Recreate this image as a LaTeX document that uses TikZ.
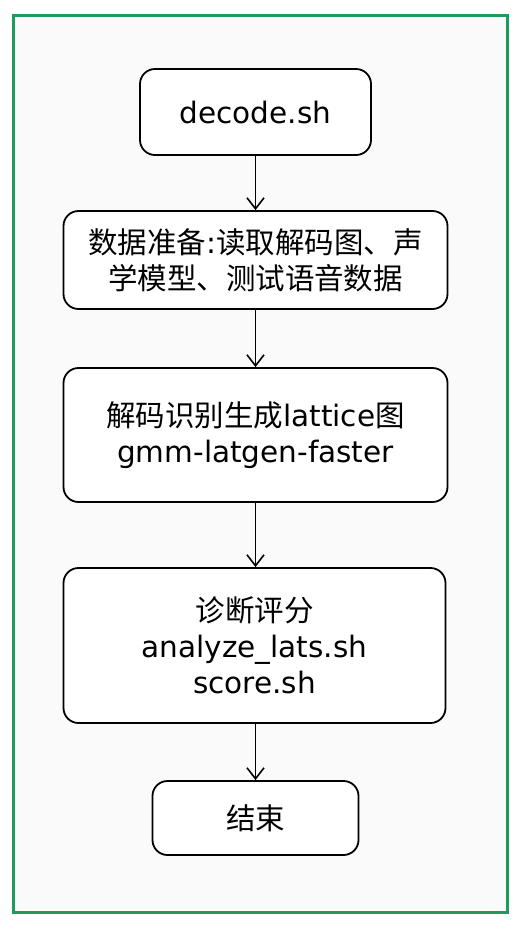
\documentclass[tikz,border=0pt]{standalone}
\usepackage{fontspec}
\setmainfont{DejaVu Sans}
\newfontfamily\cjk{Noto Sans CJK SC}
\usetikzlibrary{arrows.meta}
\definecolor{framegreen}{HTML}{1E9A5C}
\tikzset{
  box/.style={draw=black, line width=1.8pt, rounded corners=15pt, fill=white,
    align=center, inner sep=0pt, font=\fontsize{29.5}{36}\selectfont},
  conn/.style={draw=black, line width=1.6pt, -{Straight Barb[length=11pt,width=17pt,line width=1.6pt]}}
}
\begin{document}
\begin{tikzpicture}[x=1pt,y=-1pt]
\useasboundingbox (0,0) rectangle (528,930);
\fill[white] (0,0) rectangle (528,930);
\draw[framegreen, line width=3pt, fill={rgb,255:red,250;green,250;blue,250}] (13,15) rectangle (507,912);
\node[box, minimum width=231pt, minimum height=86pt] (a) at (255.5,112) {decode.sh};
\node[box, minimum width=384pt, minimum height=98pt] (b) at (255.5,260)
  {{\cjk 数据准备}:{\cjk 读取解码图、声}\\{\cjk 学模型、测试语音数据}};
\node[box, minimum width=384pt, minimum height=134pt] (c) at (255.5,435)
  {{\cjk 解码识别生成}lattice{\cjk 图}\\gmm-latgen-faster};
\node[box, minimum width=382pt, minimum height=155pt] (d) at (254.5,645.5)
  {{\cjk 诊断评分}\\analyze\_lats.sh\\score.sh};
\node[box, minimum width=206pt, minimum height=74pt] (e) at (255.5,818) {{\cjk 结束}};
\draw[conn] (a.south) -- (a.south |- b.north);
\draw[conn] (b.south) -- (b.south |- c.north);
\draw[conn] (c.south) -- (c.south |- d.north);
\draw[conn] (d.south -| e.north) -- (e.north);
\end{tikzpicture}
\end{document}
